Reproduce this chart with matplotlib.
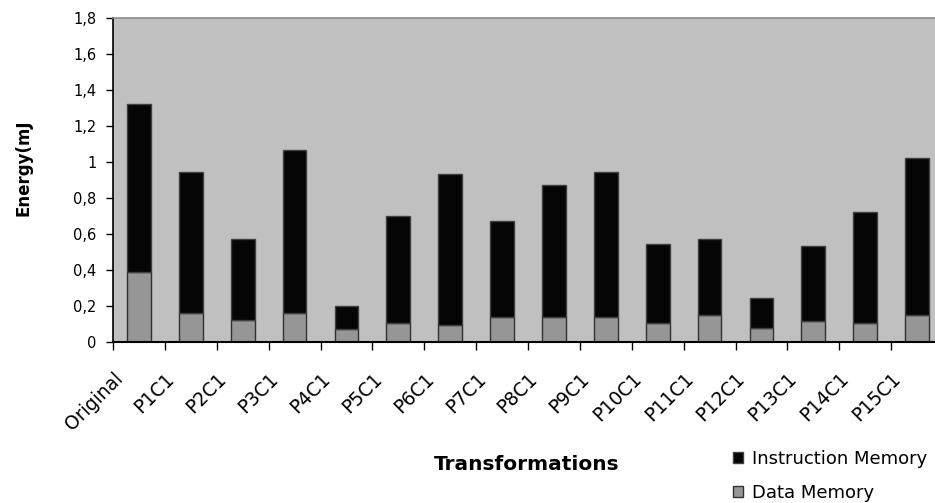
import numpy as np
import matplotlib.pyplot as plt
from matplotlib.ticker import FuncFormatter, FixedLocator
from matplotlib.transforms import ScaledTranslation

# energy per transformation (mJ)
labels = ['Original', 'P1C1', 'P2C1', 'P3C1', 'P4C1', 'P5C1', 'P6C1', 'P7C1',
          'P8C1', 'P9C1', 'P10C1', 'P11C1', 'P12C1', 'P13C1', 'P14C1', 'P15C1']
data_mem = [0.39, 0.16, 0.12, 0.16, 0.07, 0.105, 0.095, 0.14,
            0.14, 0.14, 0.105, 0.15, 0.08, 0.115, 0.105, 0.15]
total = [1.32, 0.945, 0.57, 1.065, 0.20, 0.70, 0.935, 0.67,
         0.87, 0.945, 0.545, 0.57, 0.245, 0.535, 0.725, 1.025]
instr_mem = [t - d for t, d in zip(total, data_mem)]

plt.rcParams['font.family'] = ['DejaVu Sans']

W, H = 935, 503
fig = plt.figure(figsize=(W / 100, H / 100), dpi=100)
# plot area runs past the right edge of the image
ax = fig.add_axes([113 / W, (H - 342) / H, (943 - 113) / W, (342 - 18) / H])
ax.set_facecolor('#C0C0C0')

x = np.arange(len(labels))
bw = 0.46
b_data = ax.bar(x, data_mem, bw, color='#969696', edgecolor='#303030', linewidth=1)
b_instr = ax.bar(x, instr_mem, bw, bottom=data_mem, color='#050505',
                 edgecolor='#404040', linewidth=1)

ax.set_xlim(-0.5, len(labels) - 0.5)
ax.set_ylim(0, 1.8)
ax.set_yticks(np.arange(0, 1.81, 0.2))
ax.yaxis.set_major_formatter(FuncFormatter(
    lambda v, p: ('%g' % round(v, 1)).replace('.', ',')))
ax.tick_params(axis='y', labelsize=10.5, length=5, width=1, pad=7, colors='black')

# category boundary ticks, labels at centres
ax.xaxis.set_minor_locator(FixedLocator(np.arange(-0.5, len(labels), 1.0)))
ax.set_xticks(x)
ax.set_xticklabels(labels, rotation=45, ha='right', va='top',
                   rotation_mode='anchor', fontsize=13.5)
ax.tick_params(axis='x', which='major', length=0, pad=0)
ax.tick_params(axis='x', which='minor', length=6, width=1)
shift = ScaledTranslation(-26 / 100, -27 / 100, fig.dpi_scale_trans)
for lbl in ax.get_xticklabels():
    lbl.set_transform(lbl.get_transform() + shift)

ax.spines['right'].set_visible(False)
ax.spines['top'].set_color('#8C8C8C')
ax.spines['top'].set_linewidth(1.2)
ax.spines['left'].set_linewidth(1.2)
ax.spines['bottom'].set_linewidth(1.5)

fig.text(24 / W, 1 - 168 / H, 'Energy(mJ', rotation=90, ha='center', va='center',
         fontsize=12, fontweight='bold')
fig.text(527 / W, 1 - 465 / H, 'Transformations', ha='center', va='center',
         fontsize=14.5, fontweight='bold')

fig.legend([b_instr, b_data], ['Instruction Memory', 'Data Memory'],
           loc='center left', bbox_to_anchor=(724 / W, 1 - 476 / H),
           frameon=False, fontsize=13, handlelength=0.55, handleheight=0.55,
           handletextpad=0.5, labelspacing=0.9, borderpad=0)

fig.savefig('out.png', dpi=100)
